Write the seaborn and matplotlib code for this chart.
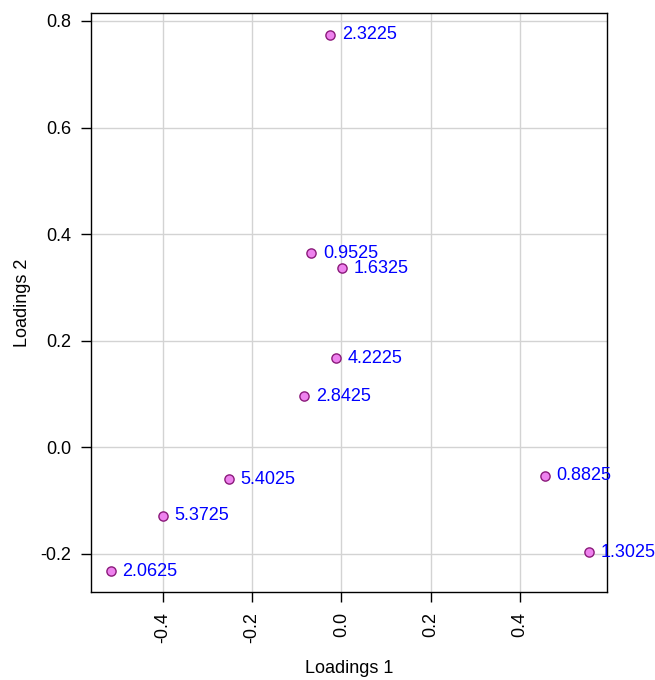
import matplotlib
matplotlib.use("Agg")
import matplotlib.pyplot as plt
import seaborn as sns
import pandas as pd

labels = ["2.3225", "0.9525", "1.6325", "4.2225", "2.8425",
          "5.4025", "0.8825", "5.3725", "2.0625", "1.3025"]
load1 = [-0.025, -0.067, 0.002, -0.011, -0.083, -0.252, 0.456, -0.400, -0.517, 0.555]
load2 = [0.774, 0.364, 0.336, 0.167, 0.096, -0.060, -0.053, -0.128, -0.233, -0.197]
xticks = [-0.4, -0.2, 0.0, 0.2, 0.4]
yticks = [-0.2, 0.0, 0.2, 0.4, 0.6, 0.8]

df = pd.DataFrame({"x": load1, "y": load2, "label": labels})

sns.set_style("white")
plt.rcParams['font.family'] = ['Liberation Sans', 'DejaVu Sans']

fig = plt.figure(figsize=(6.55, 6.8), dpi=100)
ax = fig.add_axes([0.139, 0.129, 0.788, 0.852])

ax.set_xlim(-0.561, 0.596)
ax.set_ylim(-0.272, 0.815)
ax.set_xticks(xticks)
ax.set_yticks(yticks)
ax.set_xticklabels([f"{t:.1f}" for t in xticks], rotation=90)
ax.set_yticklabels([f"{t:.1f}" for t in yticks])
ax.grid(True, color="#d3d3d3", linewidth=1.0)
ax.set_axisbelow(True)

sns.scatterplot(data=df, x="x", y="y", ax=ax, s=44, color="#ee82ee",
                edgecolor="#8b1a7b", linewidth=1.0, zorder=3, legend=False)
for xi, yi, lb in zip(load1, load2, labels):
    ax.annotate(lb, (xi, yi), xytext=(8.3, 0), textcoords="offset points",
                color="#0000ff", fontsize=13, va="center", ha="left", zorder=4)

for sp in ax.spines.values():
    sp.set_visible(True)
    sp.set_color("black")
    sp.set_linewidth(1.0)

ax.tick_params(axis="both", direction="out", length=7, width=1, color="black",
               labelsize=13, labelcolor="black", bottom=True, left=True, pad=7)
ax.set_xlabel("Loadings 1", fontsize=13, va="center", color="black")
ax.set_ylabel("Loadings 2", fontsize=13, va="center", color="black")
ax.xaxis.set_label_coords(0.5, -0.132)
ax.yaxis.set_label_coords(-0.133, 0.5)

fig.savefig("out.png", dpi=100)
